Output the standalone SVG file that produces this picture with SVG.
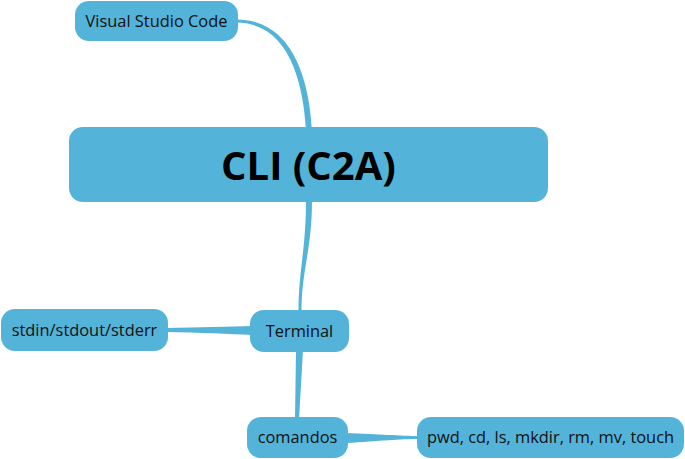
<svg xmlns="http://www.w3.org/2000/svg" width="685" height="459" viewBox="0 0 685 459">
<style>
.n{fill:#54b3d9}
.c{fill:#54b3d9}
.t{font-family:"Open Sans","Noto Sans",sans-serif;font-size:16.4px;fill:#111;text-anchor:middle}
.m{font-family:"Open Sans","Noto Sans",sans-serif;font-size:40px;font-weight:bold;fill:#000;text-anchor:middle}
</style>
<rect width="685" height="459" fill="#fff"/>
<g id="connectors">
<path class="c" d="M236,19.5 C292,19.5 309,78 312,130 L306,130 C303,80 288,22.5 236,22.5 Z"/>
<path class="c" d="M306,200 C306,250 298.5,270 298.5,312 L301.5,312 C301.5,270 312,250 312,200 Z"/>
<path class="c" d="M166,328 C200,327.5 230,326.5 252,326 L252,335 C230,334 200,332.5 166,332 Z"/>
<path class="c" d="M296,350 L303,350 L299,419 L295,419 Z"/>
<path class="c" d="M346,433 C380,434 400,436 419,436 L419,439 C400,439 380,441 346,443 Z"/>
</g>
<g id="node-vsc">
<rect class="n" x="75" y="1" width="163" height="40" rx="14"/>
<text class="t" x="156.5" y="27">Visual Studio Code</text>
</g>
<g id="node-cli">
<rect class="n" x="69" y="127" width="479" height="75" rx="14"/>
<text class="m" x="308.5" y="180">CLI (C2A)</text>
</g>
<g id="node-stdio">
<rect class="n" x="1" y="309" width="167" height="42" rx="14"/>
<text class="t" x="84.5" y="336">stdin/stdout/stderr</text>
</g>
<g id="node-terminal">
<rect class="n" x="250" y="310" width="99" height="42" rx="14"/>
<text class="t" x="299.5" y="337">Terminal</text>
</g>
<g id="node-comandos">
<rect class="n" x="247" y="417" width="101" height="41" rx="14"/>
<text class="t" x="297.5" y="443">comandos</text>
</g>
<g id="node-cmds">
<rect class="n" x="417" y="417" width="267" height="41" rx="14"/>
<text class="t" x="550.5" y="443">pwd, cd, ls, mkdir, rm, mv, touch</text>
</g>
</svg>
